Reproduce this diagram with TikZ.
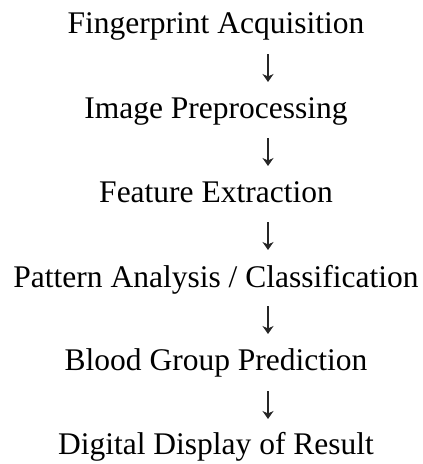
\documentclass[tikz,border=0pt]{standalone}
\usepackage{fontspec}
\setmainfont{Liberation Serif}
\usetikzlibrary{arrows.meta}
\begin{document}
\begin{tikzpicture}[x=1pt, y=-1pt,
  stage/.style={anchor=base, inner sep=0pt, font=\fontsize{31.5}{36}\selectfont},
  flowarrow/.style={draw=black!85, line width=1.3pt,
    -{Stealth[length=8pt, width=11pt, inset=2.5pt]}}]
\useasboundingbox (0,0) rectangle (423,464);
% processing stages, one per line
\node[stage] (s1) at (216,33)  {Fingerprint Acquisition};
\node[stage] (s2) at (216,118) {Image Preprocessing};
\node[stage] (s3) at (216,202) {Feature Extraction};
\node[stage] (s4) at (216,287) {Pattern Analysis / Classification};
\node[stage] (s5) at (216,370) {Blood Group Prediction};
\node[stage] (s6) at (216,454) {Digital Display of Result};
% end points of the downward arrows between stages
\foreach \i/\y in {1/54, 2/138, 3/222, 4/306, 5/391} {
  \coordinate (t\i) at (268,\y);
  \coordinate (b\i) at (268,\y+28);
}
\draw[flowarrow] (t1) -- (b1);
\draw[flowarrow] (t2) -- (b2);
\draw[flowarrow] (t3) -- (b3);
\draw[flowarrow] (t4) -- (b4);
\draw[flowarrow] (t5) -- (b5);
\end{tikzpicture}
\end{document}
